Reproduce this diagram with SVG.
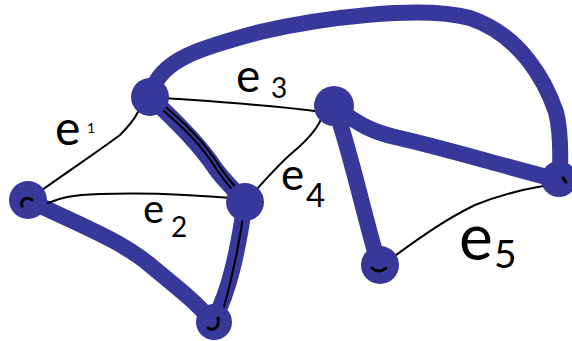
<svg xmlns="http://www.w3.org/2000/svg" width="572" height="341" viewBox="0 0 572 341">
<style>
.thick{fill:none;stroke:#36399a;stroke-width:16;stroke-linecap:round;stroke-linejoin:round}
.thin{fill:none;stroke:#000;stroke-width:2;stroke-linecap:round;stroke-linejoin:round}
.node{fill:#36399a}
.mark{fill:none;stroke:#000;stroke-width:3;stroke-linecap:round}
.lbl{font-family:Lato,Roboto,sans-serif;font-weight:400;fill:#000}
</style>
<rect width="572" height="341" fill="#fff"/>
<g id="connectors">
<path class="thick" d="M152,92 C160,60 200,48 260,32 C320,18 420,5 470,18 C520,35 545,80 556,112 C562,135 560,160 560,175"/>
<path class="thick" d="M335,108 C355,120 365,130 395,137 C440,147 500,165 558,180"/>
<path class="thick" d="M335,108 C350,150 360,200 379,266"/>
<path class="thick" d="M28,200 C80,225 120,240 150,265 C180,290 200,305 212,322"/>
<path class="thick" d="M213,322 C230,290 238,250 245,202"/>
<path class="thick" d="M150,97 C175,120 200,145 215,168 C225,182 235,190 245,202"/>
<path class="thin" d="M42,190 C70,170 100,150 120,135 C130,125 135,118 138,112"/>
<path class="thin" d="M48,203 C60,198 70,195 100,194 C150,192 200,195 245,199"/>
<path class="thin" d="M164,98 C220,102 270,105 323,112"/>
<path class="thin" d="M247,200 C265,180 280,163 292,153 C310,138 320,125 323,114"/>
<path class="thin" d="M389,260 C410,245 440,222 475,205 C500,195 520,190 543,186"/>
<path class="thin" d="M152,101 C170,116 194,136 211,161 C221,177 231,189 241,199"/>
<path class="thin" d="M155,98 C173,113 197,133 214,158 C224,174 234,186 244,197"/>
<path class="thin" d="M245,204 C240,240 232,280 221,318"/>
</g>
<g id="node-a"><circle class="node" cx="28" cy="200" r="19"/><path class="mark" d="M22,206 C20,200 26,196 32,200"/></g>
<g id="node-b"><circle class="node" cx="150" cy="97" r="19"/></g>
<g id="node-c"><circle class="node" cx="245" cy="202" r="19"/></g>
<g id="node-d"><circle class="node" cx="214" cy="322" r="18"/><path class="mark" d="M208,328 C214,332 220,326 218,318"/></g>
<g id="node-e"><circle class="node" cx="334" cy="106" r="20"/></g>
<g id="node-f"><circle class="node" cx="559" cy="179" r="18"/><path class="mark" d="M563,178 L566,182"/></g>
<g id="node-g"><circle class="node" cx="380" cy="265" r="19"/><path class="mark" d="M372,268 C376,272 382,272 386,268"/></g>
<g id="labels">
<text class="lbl" x="55" y="145" font-size="48">e</text><text class="lbl" x="87" y="133" font-size="14">1</text>
<text class="lbl" x="143" y="223" font-size="40">e</text><text class="lbl" x="171" y="237" font-size="28">2</text>
<text class="lbl" x="236" y="92" font-size="46">e</text><text class="lbl" x="271" y="98" font-size="28">3</text>
<text class="lbl" x="281" y="190" font-size="44">e</text><text class="lbl" x="306" y="207" font-size="33">4</text>
<text class="lbl" x="459" y="260" font-size="64">e</text><text class="lbl" x="494" y="268" font-size="39">5</text>
</g>
</svg>
